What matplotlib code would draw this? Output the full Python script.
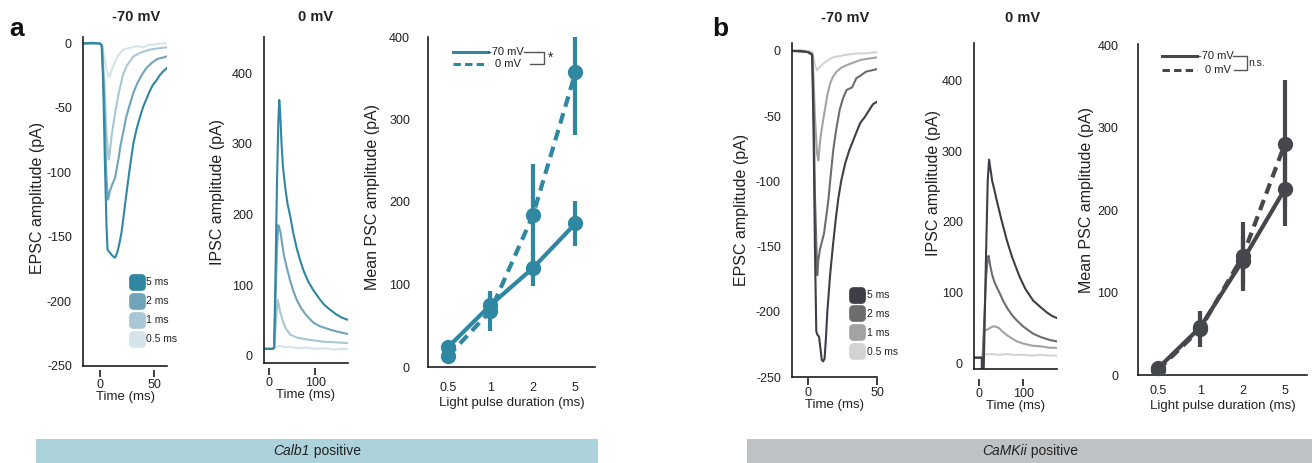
import matplotlib
matplotlib.use('Agg')
import matplotlib.pyplot as plt
from matplotlib.lines import Line2D
from matplotlib.patches import FancyBboxPatch, Rectangle

plt.rcParams['font.family'] = ['Liberation Sans', 'DejaVu Sans']
plt.rcParams['axes.unicode_minus'] = False

# ---------------- data ----------------
durations = ['5 ms', '2 ms', '1 ms', '0.5 ms']
pulse_labels = ['0.5', '1', '2', '5']

# Calb1, EPSC at -70 mV
calb1_epsc_t_5 = [-16, -8, 0, 1.5, 3, 4.5, 6, 7, 10, 12, 14, 16, 18, 20, 22, 25, 28, 31, 34, 37, 40, 43, 46, 49, 52, 55, 58, 62]
calb1_epsc_5 = [0, 0.5, 0, -1, -30, -90, -140, -160, -163, -165, -166, -162, -155, -146, -133, -113, -94, -77, -66, -57, -49, -43, -37, -32, -29, -25, -22, -19]
calb1_epsc_t_2 = [-16, 0, 2, 4, 6, 7.5, 9, 11, 14, 17, 19, 21.5, 24, 27, 31, 35, 39, 43, 48, 53, 58, 62]
calb1_epsc_2 = [0, 0, -2, -50, -105, -121, -115, -110, -104, -90, -79, -69, -58, -49, -38, -30, -24, -19, -15, -12, -11, -10]
calb1_epsc_t_1 = [-16, 0, 2, 4, 6, 8, 9, 11, 14, 17, 21, 25, 31, 38, 45, 52, 62]
calb1_epsc_1 = [0, 0, -3, -30, -70, -90, -85, -70, -54, -40, -25, -17, -10, -7, -5, -4, -3]
calb1_epsc_t_05 = [-16, 0, 2, 4, 6, 8, 9, 11, 14, 17, 21, 25, 30, 35, 40, 45, 50, 55, 62]
calb1_epsc_05 = [0, 0, -2, -10, -20, -25, -26, -20, -14, -9, -5, -4, -3, -2, -3, -1, -1, 0, 0]

# Calb1, IPSC at 0 mV
calb1_ipsc_t_5 = [-11, 0, 8, 11, 14, 17, 20, 22, 24, 27, 30, 35, 40, 46, 52, 60, 67, 75, 85, 96, 110, 120, 133, 145, 158, 171]
calb1_ipsc_5 = [10, 10, 10, 12, 120, 240, 330, 362, 345, 300, 268, 238, 215, 197, 175, 152, 136, 120, 105, 93, 80, 72, 65, 59, 54, 51]
calb1_ipsc_t_2 = [-11, 0, 8, 11, 14, 17, 20, 22, 25, 28, 32, 38, 45, 52, 60, 70, 80, 96, 110, 133, 150, 171]
calb1_ipsc_2 = [10, 10, 10, 12, 80, 150, 185, 182, 174, 160, 143, 126, 108, 93, 79, 67, 58, 47, 42, 37, 34, 31]
calb1_ipsc_t_1 = [-11, 0, 8, 11, 14, 17, 19, 21, 24, 27, 32, 38, 46, 60, 75, 96, 120, 150, 171]
calb1_ipsc_1 = [10, 10, 10, 12, 40, 68, 79, 72, 62, 56, 45, 37, 30, 26, 24, 22, 20, 19, 18]
calb1_ipsc_t_05 = [-11, 0, 10, 14, 20, 25, 35, 45, 60, 80, 100, 120, 140, 160, 171]
calb1_ipsc_05 = [10, 10, 10, 12, 14, 14, 12, 13, 11, 12, 10, 11, 9, 10, 10]

# Calb1, mean PSC amplitude
calb1_mean_m70 = [24, 75, 120, 174]
calb1_err_m70 = [4, 15, 22, 27]
calb1_mean_0 = [13, 68, 184, 357]
calb1_err_0 = [4, 24, 62, 76]

# CaMKii, EPSC at -70 mV
camk_epsc_t_5 = [-12, -5, 0, 3, 4, 5, 6, 7, 8, 9, 10, 11, 12, 13, 14, 16, 18, 20, 22, 24, 27, 30, 33, 36, 38, 41, 44, 47, 50]
camk_epsc_5 = [0, 0, -1, -3, -60, -150, -215, -218, -219, -228, -237, -238, -236, -220, -200, -172, -150, -130, -113, -100, -86, -76, -68, -60, -55, -51, -46, -41, -39]
camk_epsc_t_2 = [-12, 0, 3, 4, 5, 6.7, 7.5, 8.7, 11.6, 14.7, 16.5, 18.3, 20.5, 23, 25.5, 28, 30, 32, 35, 38, 42, 46, 50]
camk_epsc_2 = [0, -1, -3, -40, -110, -172, -160, -152, -140, -115, -95, -76, -60, -45, -36, -30, -29, -28, -21, -19, -16, -15, -14]
camk_epsc_t_1 = [-12, 0, 3, 4, 5, 6.5, 7.5, 8.5, 9.5, 11, 12.3, 14, 16, 18, 20.7, 24, 28, 33, 38, 44, 50]
camk_epsc_1 = [0, -1, -2, -20, -50, -78, -84, -72, -63, -53, -45, -34, -25, -20, -16, -13, -11, -9, -7, -6, -5]
camk_epsc_t_05 = [-12, 0, 3, 4, 5, 6.7, 8, 10, 12, 14.7, 18, 23, 28, 35, 42, 50]
camk_epsc_05 = [0, 0, -1, -5, -11, -15, -13, -11, -9, -7, -5, -4, -3, -2, -2, -1]

# CaMKii, IPSC at 0 mV
camk_ipsc_t_5 = [-11, 0, 6.5, 7, 10, 11, 16, 20, 23, 26, 30, 35, 40, 50, 63, 75, 92, 105, 122, 138, 153, 165, 176]
camk_ipsc_5 = [8, 8, 8, -30, -30, -5, 150, 260, 288, 275, 258, 245, 231, 205, 174, 150, 122, 105, 89, 80, 72, 67, 64]
camk_ipsc_t_2 = [-11, 0, 9, 12, 16, 20, 22, 25, 30, 35, 40, 47, 55, 65, 75, 85, 100, 122, 140, 160, 176]
camk_ipsc_2 = [8, 8, 8, 60, 120, 150, 152, 140, 125, 115, 108, 99, 88, 77, 68, 61, 52, 42, 37, 33, 31]
camk_ipsc_t_1 = [-11, 0, 8, 10, 12, 15, 20, 30, 38, 45, 55, 65, 75, 86, 100, 120, 140, 160, 176]
camk_ipsc_1 = [8, 8, 8, 30, 45, 47, 48, 52, 52, 50, 44, 39, 35, 31, 28, 25, 24, 22, 22]
camk_ipsc_t_05 = [-11, 0, 8, 12, 20, 30, 45, 60, 80, 100, 120, 140, 160, 176]
camk_ipsc_05 = [8, 8, 8, 12, 13, 13, 12, 13, 12, 12, 11, 12, 11, 11]

# CaMKii, mean PSC amplitude
camk_mean_m70 = [8, 58, 139, 226]
camk_err_m70 = [3, 12, 30, 45]
camk_mean_0 = [6, 56, 144, 281]
camk_err_0 = [3, 22, 42, 77]

# ---------------- style ----------------
calb1_cols = ['#2f87a2', '#70a4b8', '#a7c7d4', '#d3e4eb']
camk_cols = ['#3e3e46', '#6d6d71', '#a3a3a5', '#d3d3d4']
calb1_mean_col = '#2f87a2'
camk_mean_col = '#46464d'
spine_col = '#1e1e1e'
txt_col = '#222222'

W, H = 1312, 463
fig = plt.figure(figsize=(W / 100, H / 100), dpi=100)


def add_ax(l, t, r, b):
    return fig.add_axes([l / W, 1 - b / H, (r - l) / W, (b - t) / H])


rbox = FancyBboxPatch((-0.5, -0.5), 1, 1, boxstyle='round,pad=0,rounding_size=0.25')
rpath = rbox.get_path()


def base_style(ax):
    for s in ['top', 'right']:
        ax.spines[s].set_visible(False)
    for s in ['left', 'bottom']:
        ax.spines[s].set_color(spine_col)
        ax.spines[s].set_linewidth(1.2)


def trace_ax(ax, xlim, ylim, xticks, yticks, ylabel, off, lab_xy, ytick_pad):
    base_style(ax)
    ax.set_xlim(*xlim)
    ax.set_ylim(*ylim)
    ax.set_yticks(yticks)
    ax.tick_params(axis='y', length=0, pad=ytick_pad, labelsize=9, labelcolor=txt_col)
    ax.tick_params(axis='x', length=0, labelbottom=False)
    sec = ax.secondary_xaxis(off)
    for s in sec.spines.values():
        s.set_visible(False)
    sec.set_xticks(xticks)
    sec.tick_params(length=5, width=1.2, pad=1.5, labelsize=9, labelcolor=txt_col, color=spine_col)
    sec.set_xlabel('Time (ms)', fontsize=9.5, labelpad=0, color=txt_col)
    ax.set_ylabel(ylabel, fontsize=11.5, color=txt_col)
    ax.yaxis.set_label_coords(*lab_xy)


def draw_traces(ax, ts, vs, cols):
    for t, v, c in list(zip(ts, vs, cols))[::-1]:
        ax.plot(t, v, color=c, lw=1.5, solid_joinstyle='round')


def dur_legend(ax, cols, anchor):
    handles = [Line2D([], [], ls='', marker=rpath, ms=11, mfc=c, mec=c) for c in cols]
    ax.legend(handles, durations, loc='upper left', bbox_to_anchor=anchor, frameon=False,
              fontsize=7.5, handlelength=1.0, handletextpad=0.45, labelspacing=0.86,
              borderpad=0, borderaxespad=0, labelcolor=txt_col)


def mean_ax(ax, m70, e70, m0, e0, col, xlim, ylim, lab_xy, xpad, ypad):
    base_style(ax)
    x = list(range(len(pulse_labels)))
    ax.errorbar(x, m70, yerr=e70, fmt='o', ls='-', color=col, lw=3, ms=10, elinewidth=3, capsize=0, clip_on=False, zorder=3)
    ax.errorbar(x, m0, yerr=e0, fmt='o', ls=(0, (2.6, 1.6)), color=col, lw=3, ms=10, elinewidth=3, capsize=0, clip_on=True, zorder=3)
    ax.set_xlim(*xlim)
    ax.set_ylim(*ylim)
    ax.set_xticks(x, pulse_labels)
    ax.set_yticks([0, 100, 200, 300, 400])
    ax.tick_params(axis='x', length=0, pad=xpad, labelsize=9, labelcolor=txt_col)
    ax.tick_params(axis='y', length=0, pad=ypad, labelsize=9, labelcolor=txt_col)
    ax.set_xlabel('Light pulse duration (ms)', fontsize=9.5, labelpad=2, color=txt_col)
    ax.set_ylabel('Mean PSC amplitude (pA)', fontsize=11.5, color=txt_col)
    ax.yaxis.set_label_coords(*lab_xy)


def mean_legend(ax, col, x0, x1, y1, y2, t1x, t2x, bx, bl1, bl2, mark, markx, fs_mark):
    tr = ax.transAxes
    ax.plot([x0, x1], [y1, y1], color=col, lw=2.2, transform=tr, clip_on=False)
    ax.plot([x0, x1], [y2, y2], color=col, lw=2.2, ls=(0, (2.4, 1.4)), transform=tr, clip_on=False)
    ax.text(t1x, y1, '-70 mV', fontsize=8, va='center', ha='left', transform=tr, color=txt_col)
    ax.text(t2x, y2, '0 mV', fontsize=8, va='center', ha='left', transform=tr, color=txt_col)
    ax.plot([bl1, bx, bx, bl2], [y1, y1, y2, y2], color='#555555', lw=1.0, transform=tr, clip_on=False)
    ax.text(markx, (y1 + y2) / 2, mark, fontsize=fs_mark, va='center', ha='left', transform=tr, color=txt_col)


# ---------------- panel a ----------------
a1 = add_ax(83, 37, 167, 366)
draw_traces(a1, [calb1_epsc_t_5, calb1_epsc_t_2, calb1_epsc_t_1, calb1_epsc_t_05],
            [calb1_epsc_5, calb1_epsc_2, calb1_epsc_1, calb1_epsc_05], calb1_cols)
trace_ax(a1, (-15.7, 62), (-250, 5), [0, 50], [0, -50, -100, -150, -200, -250],
         'EPSC amplitude (pA)', -0.012, (-0.45, 0.51), 8)
dur_legend(a1, calb1_cols, (0.575, 0.269))

a2 = add_ax(264, 37, 348, 363)
draw_traces(a2, [calb1_ipsc_t_5, calb1_ipsc_t_2, calb1_ipsc_t_1, calb1_ipsc_t_05],
            [calb1_ipsc_5, calb1_ipsc_2, calb1_ipsc_1, calb1_ipsc_05], calb1_cols)
trace_ax(a2, (-11, 171), (-10, 451), [0, 100], [0, 100, 200, 300, 400],
         'IPSC amplitude (pA)', -0.015, (-0.46, 0.525), 8)

a3 = add_ax(428, 37, 595, 367)
mean_ax(a3, calb1_mean_m70, calb1_err_m70, calb1_mean_0, calb1_err_0, calb1_mean_col,
        (-0.47, 3.46), (0, 400), (-0.287, 0.515), 11, 13)
mean_legend(a3, calb1_mean_col, 0.15, 0.36, 0.955, 0.918, 0.362, 0.40, 0.695, 0.575, 0.611, '*', 0.72, 10)

# ---------------- panel b ----------------
b1 = add_ax(792, 43, 877, 377)
draw_traces(b1, [camk_epsc_t_5, camk_epsc_t_2, camk_epsc_t_1, camk_epsc_t_05],
            [camk_epsc_5, camk_epsc_2, camk_epsc_1, camk_epsc_05], camk_cols)
trace_ax(b1, (-11.6, 50), (-250, 6), [0, 50], [0, -50, -100, -150, -200, -250],
         'EPSC amplitude (pA)', -0.003, (-0.51, 0.5), 8)
dur_legend(b1, camk_cols, (0.70, 0.26))

b2 = add_ax(974, 43, 1057, 369)
draw_traces(b2, [camk_ipsc_t_5, camk_ipsc_t_2, camk_ipsc_t_1, camk_ipsc_t_05],
            [camk_ipsc_5, camk_ipsc_2, camk_ipsc_1, camk_ipsc_05], camk_cols)
trace_ax(b2, (-11, 176), (-8, 453), [0, 100], [0, 100, 200, 300, 400],
         'IPSC amplitude (pA)', -0.03, (-0.40, 0.57), 8)

b3 = add_ax(1138, 44, 1307, 375)
mean_ax(b3, camk_mean_m70, camk_err_m70, camk_mean_0, camk_err_0, camk_mean_col,
        (-0.47, 3.52), (0, 402), (-0.262, 0.53), 7, 14)
mean_legend(b3, camk_mean_col, 0.142, 0.349, 0.965, 0.92, 0.355, 0.396, 0.645, 0.562, 0.568, 'n.s.', 0.655, 7.5)

# ---------------- titles and labels ----------------
for x, y, s in [(136, 17, '-70 mV'), (316, 17, '0 mV'), (845, 18, '-70 mV'), (1023, 18, '0 mV')]:
    fig.text(x / W, 1 - y / H, s, fontsize=10.5, fontweight='bold', ha='center', va='center', color=txt_col)
fig.text(17 / W, 1 - 29 / H, 'a', fontsize=19, fontweight='bold', ha='center', va='center', color='#111111')
fig.text(720 / W, 1 - 29 / H, 'b', fontsize=19, fontweight='bold', ha='center', va='center', color='#111111')

# bottom group bars
fig.add_artist(Rectangle((36 / W, 0), (598 - 36) / W, (463 - 439) / H, transform=fig.transFigure,
                         facecolor='#acd3dc', edgecolor='none'))
fig.add_artist(Rectangle((747 / W, 0), (1312 - 747) / W, (463 - 439) / H, transform=fig.transFigure,
                         facecolor='#bfc2c5', edgecolor='none'))

renderer = fig.canvas.get_renderer()


def two_part(cx, cy, ital, rest, fs=10):
    t1 = fig.text(0, 1 - cy / H, ital, style='italic', fontsize=fs, va='center', ha='left', color=txt_col)
    t2 = fig.text(0, 1 - cy / H, rest, fontsize=fs, va='center', ha='left', color=txt_col)
    w1 = t1.get_window_extent(renderer).width
    w2 = t2.get_window_extent(renderer).width
    x0 = cx - (w1 + w2) / 2
    t1.set_x(x0 / W)
    t2.set_x((x0 + w1) / W)


two_part(317, 451, 'Calb1', ' positive')
two_part(1030, 451, 'CaMKii', ' positive')

fig.savefig('out.png', dpi=100)
